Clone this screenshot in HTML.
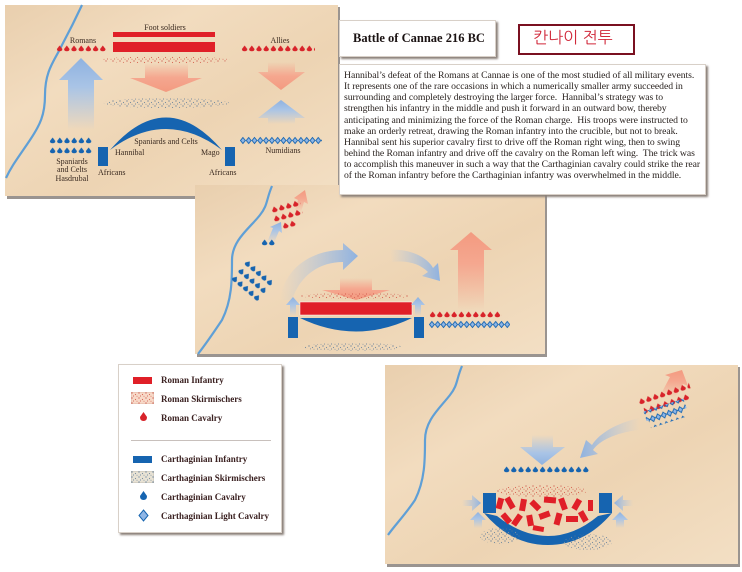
<!DOCTYPE html>
<html><head><meta charset="utf-8"><style>
body{margin:0;width:742px;height:572px;background:#fff;position:relative;overflow:hidden;font-family:"Liberation Serif",serif}
svg{position:absolute;left:0;top:0}
.box{position:absolute;background:#fff;box-shadow:2px 2px 2px #8a7f78;border:1px solid #d8d0c8}
.tx{position:absolute;left:4px;top:5px;font-size:9.7px;line-height:11.15px;color:#2a2320;white-space:nowrap;letter-spacing:-0.05px}
.lg{position:absolute;font-size:9px;font-weight:bold;color:#3a2020;white-space:nowrap}
</style></head><body>
<svg width="742" height="572" viewBox="0 0 742 572">
<defs>
<linearGradient id="paper" x1="0" y1="0" x2="1" y2="1">
<stop offset="0" stop-color="#e9cfae"/><stop offset="0.3" stop-color="#f2dcbf"/><stop offset="0.6" stop-color="#edd4b3"/><stop offset="1" stop-color="#f3dfc4"/></linearGradient>
<linearGradient id="bup" x1="0" y1="1" x2="0" y2="0"><stop offset="0" stop-color="#a9c4e6" stop-opacity="0"/><stop offset="0.6" stop-color="#a9c4e6"/><stop offset="1" stop-color="#8fb2e0"/></linearGradient>
<linearGradient id="pdn" x1="0" y1="0" x2="0" y2="1"><stop offset="0" stop-color="#f5a78f" stop-opacity="0"/><stop offset="0.5" stop-color="#f5a78f"/><stop offset="1" stop-color="#f39a80"/></linearGradient>
<linearGradient id="pup" x1="0" y1="1" x2="0" y2="0"><stop offset="0" stop-color="#f5a78f" stop-opacity="0"/><stop offset="0.6" stop-color="#f5a78f"/><stop offset="1" stop-color="#f39a80"/></linearGradient>
<linearGradient id="bdn" x1="0" y1="0" x2="0" y2="1"><stop offset="0" stop-color="#a9c4e6" stop-opacity="0"/><stop offset="0.6" stop-color="#a9c4e6"/><stop offset="1" stop-color="#8fb2e0"/></linearGradient>
<linearGradient id="brt" x1="0" y1="0" x2="1" y2="0"><stop offset="0" stop-color="#a9c4e6" stop-opacity="0"/><stop offset="1" stop-color="#8fb2e0"/></linearGradient>
<linearGradient id="blt" x1="1" y1="0" x2="0" y2="0"><stop offset="0" stop-color="#a9c4e6" stop-opacity="0"/><stop offset="1" stop-color="#8fb2e0"/></linearGradient>
<pattern id="rc" width="7.2" height="10" patternUnits="userSpaceOnUse"><path d="M3.6,1.5 L6.3,5 Q6.3,7.3 3.6,7.3 Q0.9,7.3 0.9,5 Z" fill="#d8232a"/></pattern>
<pattern id="bc" width="7.2" height="10" patternUnits="userSpaceOnUse"><path d="M3.6,1.5 L6.3,5 Q6.3,7.3 3.6,7.3 Q0.9,7.3 0.9,5 Z" fill="#1664b0"/></pattern>
<pattern id="lc" width="5.8" height="10" patternUnits="userSpaceOnUse"><path d="M2.9,1.5 L5.3,4.5 L2.9,7.5 L0.5,4.5 Z" fill="#8fb6e6" stroke="#1664b0" stroke-width="0.9"/></pattern>
<pattern id="rd" width="7" height="5" patternUnits="userSpaceOnUse"><circle cx="1" cy="1" r="0.6" fill="#c8453c"/><circle cx="4.5" cy="2.5" r="0.6" fill="#d86a58"/><circle cx="2.5" cy="4" r="0.5" fill="#c8453c"/><circle cx="6" cy="4.3" r="0.5" fill="#d86a58"/></pattern>
<pattern id="bd" width="7" height="5" patternUnits="userSpaceOnUse"><circle cx="1" cy="1" r="0.6" fill="#4d7098"/><circle cx="4.5" cy="2.5" r="0.6" fill="#7a8ea0"/><circle cx="2.5" cy="4" r="0.5" fill="#4d7098"/><circle cx="6" cy="4.3" r="0.5" fill="#7a8ea0"/></pattern>
</defs>

<!-- Panel 1 -->
<rect x="7" y="7" width="333" height="192" fill="#9a9490"/>
<rect x="5" y="5" width="333" height="191" fill="url(#paper)"/>
<path d="M82,5 C75,20 70,30 62,45 C55,60 45,70 45,95 C45,115 40,125 30,140 C20,155 12,165 6,178" fill="none" stroke="#5f9fd6" stroke-width="2.2"/>
<text x="83" y="43" font-size="8" text-anchor="middle" fill="#3a2a20">Romans</text>
<g transform="translate(56,44)"><rect width="51" height="10" fill="url(#rc)"/></g>
<text x="165" y="30" font-size="8" text-anchor="middle" fill="#3a2a20">Foot soldiers</text>
<rect x="113" y="32" width="102" height="5" fill="#e01f28"/>
<rect x="113" y="42" width="102" height="10" fill="#e01f28"/>
<ellipse cx="165" cy="60" rx="65" ry="3.5" fill="url(#rd)"/>
<path d="M145,63 H188 V78 H202 L166,92 L130,78 H145 Z" fill="url(#pdn)"/>
<ellipse cx="166" cy="103" rx="63" ry="5" fill="url(#bd)"/>
<path d="M110,150 Q166,85 222,150 Q166,108 110,150 Z" fill="#1664b0"/>
<text x="166" y="144" font-size="8" text-anchor="middle" fill="#3a2a20">Spaniards and Celts</text>
<text x="115" y="155" font-size="8" fill="#3a2a20">Hannibal</text>
<text x="201" y="155" font-size="8" fill="#3a2a20">Mago</text>
<rect x="98" y="147" width="10" height="19" fill="#1664b0"/>
<rect x="225" y="147" width="10" height="19" fill="#1664b0"/>
<text x="98" y="175" font-size="8" fill="#3a2a20">Africans</text>
<text x="209" y="175" font-size="8" fill="#3a2a20">Africans</text>
<g transform="translate(49,136)"><rect width="43" height="10" fill="url(#bc)"/></g>
<g transform="translate(49,146)"><rect width="43" height="10" fill="url(#bc)"/></g>
<text x="72" y="164" font-size="8" text-anchor="middle" fill="#3a2a20">Spaniards</text>
<text x="72" y="172" font-size="8" text-anchor="middle" fill="#3a2a20">and Celts</text>
<text x="72" y="181" font-size="8" text-anchor="middle" fill="#3a2a20">Hasdrubal</text>
<path d="M68,130 V80 H59 L81,58 L103,80 H94 V130 Z" fill="url(#bup)"/>
<text x="280" y="43" font-size="8" text-anchor="middle" fill="#3a2a20">Allies</text>
<g transform="translate(241,44)"><rect width="74" height="10" fill="url(#rc)"/></g>
<path d="M268,62 H295 V72 H305 L281,90 L258,72 H268 Z" fill="url(#pdn)"/>
<path d="M268,124 V118 H258 L281,100 L305,118 H295 V124 Z" fill="url(#bup)"/>
<g transform="translate(240,136)"><rect width="82" height="10" fill="url(#lc)"/></g>
<text x="283" y="153" font-size="8" text-anchor="middle" fill="#3a2a20">Numidians</text>

<!-- Panel 2 -->
<rect x="197" y="187" width="350" height="170" fill="#9a9490"/>
<rect x="195" y="185" width="350" height="169" fill="url(#paper)"/>
<path d="M272,186 C266,200 268,205 260,215 C250,228 232,240 232,260 C232,280 232,300 222,320 C212,335 205,345 198,354" fill="none" stroke="#5f9fd6" stroke-width="2.2"/>
<path d="M295,210 L298,200 L294,198 L305,190 L308,204 L304,202 L301,212 Z" fill="url(#pup)"/>
<g transform="translate(270,206) rotate(-15)"><rect width="30" height="10" fill="url(#rc)"/></g>
<g transform="translate(272,215) rotate(-15)"><rect width="30" height="10" fill="url(#rc)"/></g>
<g transform="translate(274,224) rotate(-15)"><rect width="22" height="10" fill="url(#rc)"/></g>
<path d="M268,240 L273,228 L270,227 L281,222 L282,233 L279,231 L274,243 Z" fill="url(#bup)"/>
<g transform="translate(261,238)"><rect width="15" height="10" fill="url(#bc)"/></g>
<g transform="translate(248,258) rotate(40)"><rect width="36" height="10" fill="url(#bc)"/><rect y="10" width="36" height="10" fill="url(#bc)"/><rect y="20" width="36" height="10" fill="url(#bc)"/></g>
<path d="M280,300 C285,265 315,250 343,250 L343,243 L358,256 L343,270 L343,262 C320,262 300,275 292,300 Z" fill="url(#brt)"/>
<path d="M390,250 C410,248 428,258 433,268 L438,263 L440,281 L422,276 L428,272 C420,264 408,260 392,262 Z" fill="url(#brt)"/>
<path d="M458,310 V250 H450 L471,232 L492,250 H484 V310 Z" fill="url(#pup)"/>
<path d="M340,278 H372 V290 H390 L356,300 L322,290 H340 Z" fill="url(#pdn)"/>
<ellipse cx="356" cy="296" rx="55" ry="3" fill="url(#rd)"/>
<rect x="300" y="302" width="112" height="13" fill="#e01f28" stroke="#fff" stroke-width="0.5"/>
<path d="M300,318 H412 Q356,345 300,318 Z" fill="#1664b0"/>
<rect x="288" y="317" width="10" height="21" fill="#1664b0"/>
<rect x="414" y="317" width="10" height="21" fill="#1664b0"/>
<path d="M290,316 V305 H286 L293,297 L300,305 H296 V316 Z" fill="url(#bup)"/>
<path d="M415,316 V305 H411 L418,297 L425,305 H421 V316 Z" fill="url(#bup)"/>
<ellipse cx="352" cy="347" rx="50" ry="4" fill="url(#bd)"/>
<g transform="translate(429,310)"><rect width="73" height="10" fill="url(#rc)"/></g>
<g transform="translate(429,320)"><rect width="81" height="10" fill="url(#lc)"/></g>

<!-- Panel 3 -->
<rect x="387" y="367" width="353" height="200" fill="#9a9490"/>
<rect x="385" y="365" width="353" height="199" fill="url(#paper)"/>
<path d="M462,366 C456,380 458,385 450,395 C440,408 425,420 425,440 C425,460 425,480 415,500 C405,515 395,525 388,535" fill="none" stroke="#5f9fd6" stroke-width="2.2"/>
<path d="M662,392 L670,377 L665,375 L682,370 L688,386 L683,384 L675,398 Z" fill="url(#pup)"/>
<g transform="translate(637,398) rotate(-18)"><rect width="54" height="10" fill="url(#rc)"/><rect x="3" y="8" width="48" height="10" fill="url(#rc)"/><rect x="2" y="15" width="42" height="10" fill="url(#lc)"/><rect x="4" y="23" width="36" height="10" fill="url(#lc)"/></g>
<path d="M640,418 C620,422 600,432 592,445 L586,440 L580,458 L598,454 L593,450 C600,440 618,432 640,430 Z" fill="url(#blt)"/>
<path d="M532,435 H553 V447 H565 L542,465 L520,447 H532 Z" fill="url(#bdn)"/>
<g transform="translate(503,465)"><rect width="86" height="10" fill="url(#bc)"/></g>
<ellipse cx="542" cy="491" rx="45" ry="6" fill="url(#rd)"/>
<rect x="483" y="493" width="13" height="20" fill="#1664b0"/>
<rect x="599" y="493" width="13" height="20" fill="#1664b0"/>
<path d="M484,513 L497,516 Q522,536 548,536 Q574,536 598,516 L612,513 Q585,545 548,545 Q511,545 484,513 Z" fill="#1664b0"/>
<g fill="#e01f28">
<rect x="497" y="498" width="6" height="11" transform="rotate(15 500 503)"/>
<rect x="507" y="497" width="6" height="12" transform="rotate(-30 510 503)"/>
<rect x="520" y="499" width="6" height="12" transform="rotate(10 523 505)"/>
<rect x="532" y="500" width="6" height="11" transform="rotate(-45 535 505)"/>
<rect x="544" y="497" width="12" height="6" transform="rotate(5 550 500)"/>
<rect x="560" y="498" width="6" height="12" transform="rotate(-20 563 504)"/>
<rect x="574" y="499" width="6" height="11" transform="rotate(30 577 504)"/>
<rect x="588" y="500" width="5" height="11"/>
<rect x="503" y="513" width="6" height="11" transform="rotate(-40 506 518)"/>
<rect x="514" y="514" width="6" height="12" transform="rotate(35 517 520)"/>
<rect x="527" y="515" width="6" height="11" transform="rotate(-10 530 520)"/>
<rect x="539" y="512" width="11" height="6" transform="rotate(-20 545 515)"/>
<rect x="555" y="513" width="6" height="12" transform="rotate(15 558 519)"/>
<rect x="566" y="516" width="12" height="6"/>
<rect x="580" y="511" width="6" height="11" transform="rotate(-30 583 516)"/>
<rect x="533" y="526" width="11" height="5" transform="rotate(10 538 528)"/>
</g>
<path d="M462,500 H472 V495 L481,503 L472,511 V506 H462 Z" fill="url(#brt)"/>
<path d="M633,500 H623 V495 L614,503 L623,511 V506 H633 Z" fill="url(#blt)"/>
<path d="M474,528 V520 H470 L478,512 L486,520 H482 V528 Z" fill="url(#bup)"/>
<path d="M616,528 V520 H612 L620,512 L628,520 H624 V528 Z" fill="url(#bup)"/>
<ellipse cx="500" cy="536" rx="20" ry="8" fill="url(#bd)"/>
<ellipse cx="588" cy="542" rx="24" ry="8" fill="url(#bd)"/>
</svg>

<div class="box" style="left:339px;top:20px;width:155px;height:35px;"><div style="position:absolute;left:13px;top:10px;font-size:12.5px;font-weight:bold;color:#1a1212;white-space:nowrap">Battle of Cannae 216 BC</div></div>
<div style="position:absolute;left:518px;top:24px;width:113px;height:27px;border:2px solid #7a1020;background:#fff"><div style="position:absolute;left:13px;top:2px;font-size:16px;color:#d0283a;font-family:'Liberation Sans','NanumGothic',sans-serif;white-space:nowrap">칸나이 전투</div></div>
<div class="box" style="left:339px;top:64px;width:365px;height:129px;"><div class="tx">Hannibal’s defeat of the Romans at Cannae is one of the most studied of all military events.<br>It represents one of the rare occasions in which a numerically smaller army succeeded in<br>surrounding and completely destroying the larger force.&nbsp; Hannibal’s strategy was to<br>strengthen his infantry in the middle and push it forward in an outward bow, thereby<br>anticipating and minimizing the force of the Roman charge.&nbsp; His troops were instructed to<br>make an orderly retreat, drawing the Roman infantry into the crucible, but not to break.<br>Hannibal sent his superior cavalry first to drive off the Roman right wing, then to swing<br>behind the Roman infantry and drive off the cavalry on the Roman left wing.&nbsp; The trick was<br>to accomplish this maneuver in such a way that the Carthaginian cavalry could strike the rear<br>of the Roman infantry before the Carthaginian infantry was overwhelmed in the middle.</div></div>

<div class="box" style="left:118px;top:364px;width:162px;height:167px;">
<div style="position:absolute;left:14px;top:12px;width:19px;height:7px;background:#e01f28"></div>
<div class="lg" style="left:42px;top:10px">Roman Infantry</div>
<svg style="position:absolute;left:12px;top:27px" width="23" height="12"><rect width="23" height="12" fill="#f7d9c8" stroke="#cfa090" stroke-width="0.6"/><rect width="23" height="12" fill="url(#rd)"/></svg>
<div class="lg" style="left:42px;top:29px">Roman Skirmischers</div>
<svg style="position:absolute;left:20px;top:46px" width="9" height="12"><path d="M4.5,1 L8,6 Q8,10 4.5,10 Q1,10 1,6 Z" fill="#d8232a"/></svg>
<div class="lg" style="left:42px;top:48px">Roman Cavalry</div>
<div style="position:absolute;left:12px;top:75px;width:140px;height:1px;background:#c8c0bc"></div>
<div style="position:absolute;left:14px;top:91px;width:19px;height:7px;background:#1664b0"></div>
<div class="lg" style="left:42px;top:89px">Carthaginian Infantry</div>
<svg style="position:absolute;left:12px;top:106px" width="23" height="12"><rect width="23" height="12" fill="#e8e2d4" stroke="#a8a8a0" stroke-width="0.6"/><rect width="23" height="12" fill="url(#bd)"/></svg>
<div class="lg" style="left:42px;top:108px">Carthaginian Skirmischers</div>
<svg style="position:absolute;left:20px;top:125px" width="9" height="12"><path d="M4.5,1 L8,6 Q8,10 4.5,10 Q1,10 1,6 Z" fill="#1664b0"/></svg>
<div class="lg" style="left:42px;top:127px">Carthaginian Cavalry</div>
<svg style="position:absolute;left:19px;top:144px" width="11" height="13"><path d="M5.5,1 L10,6.5 L5.5,12 L1,6.5 Z" fill="#8fb6e6" stroke="#1664b0" stroke-width="1"/></svg>
<div class="lg" style="left:42px;top:146px">Carthaginian Light Cavalry</div>
</div>
</body></html>
